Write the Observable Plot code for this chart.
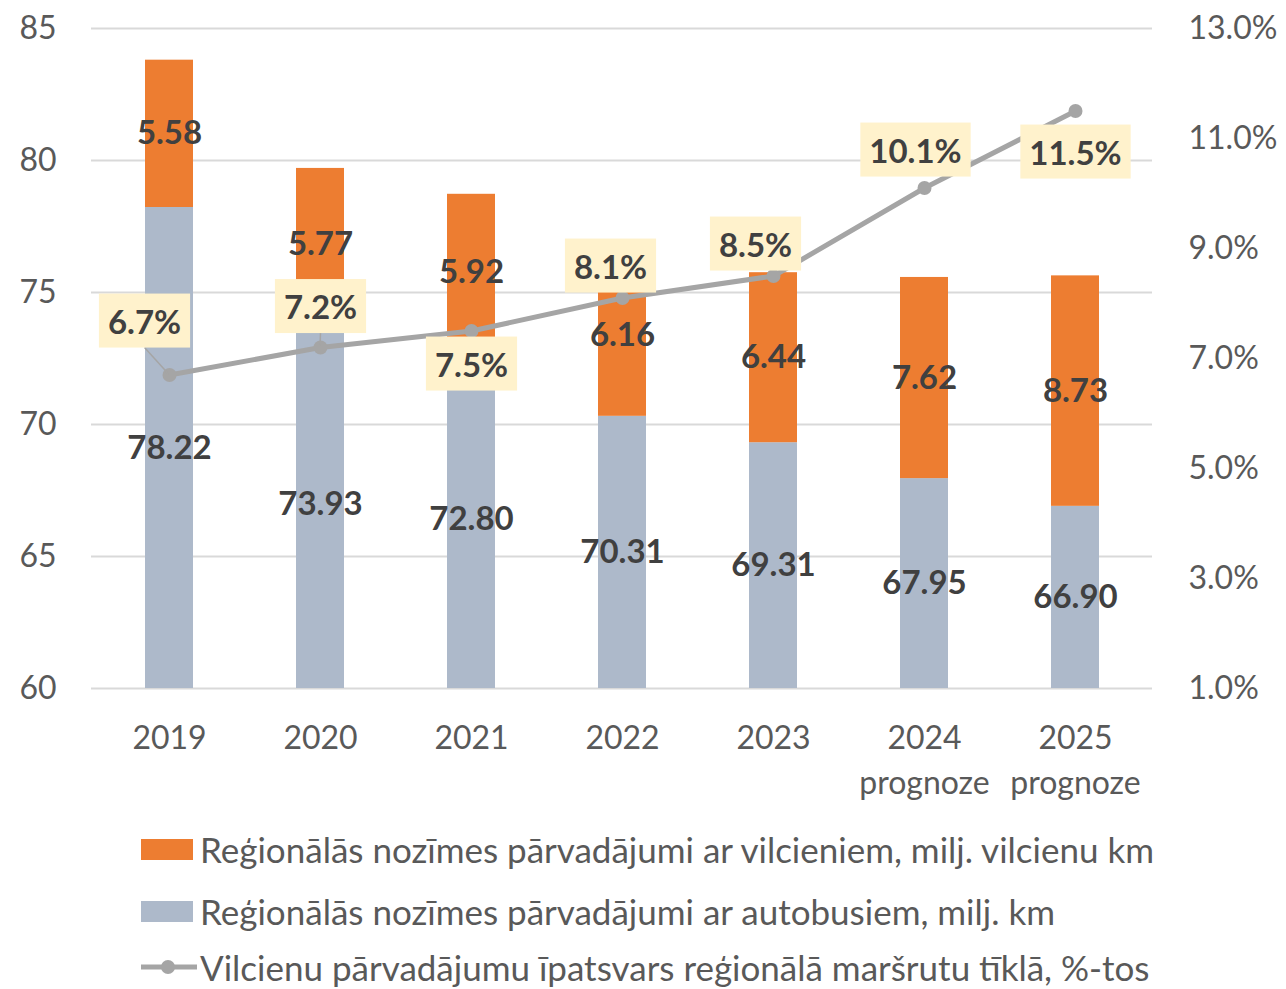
<!DOCTYPE html>
<html>
<head>
<meta charset="utf-8">
<script src="https://cdn.jsdelivr.net/npm/d3@7"></script>
<script src="https://cdn.jsdelivr.net/npm/@observablehq/plot@0.6"></script>
<style>
  body { margin: 0; background: #fff; font-family: Lato, "Open Sans", sans-serif; }
  #wrap { position: relative; width: 1286px; height: 989px; overflow: hidden; }
  .lg { position: absolute; left: 141px; height: 40px; display: flex; align-items: center; font-size: 35px; color: #595959; white-space: nowrap; }
  .sw { width: 52px; height: 21px; margin-right: 7px; flex: none; }
</style>
</head>
<body>
<div id="wrap"></div>
<script>
// ---- data ----
const years = ["2019", "2020", "2021", "2022", "2023", "2024", "2025"];
const forecastYears = ["2024", "2025"];
const busKm = [78.22, 73.93, 72.80, 70.31, 69.31, 67.95, 66.90];
const trainKm = [5.58, 5.77, 5.92, 6.16, 6.44, 7.62, 8.73];
const trainShare = [6.7, 7.2, 7.5, 8.1, 8.5, 10.1, 11.5];
const leftTicks = [60, 65, 70, 75, 80, 85];
const rightTicks = [1, 3, 5, 7, 9, 11, 13];
const seriesNames = [
  "Reģionālās nozīmes pārvadājumi ar vilcieniem, milj. vilcienu km",
  "Reģionālās nozīmes pārvadājumi ar autobusiem, milj. km",
  "Vilcienu pārvadājumu īpatsvars reģionālā maršrutu tīklā, %-tos"
];

// ---- layout (label nudges in px) ----
const pctLabelOffset = [[-25, -52], [0, -39], [0, 35], [-12, -30], [-18, -30], [-9, -36], [0, 43]];
const leaderYears = ["2019", "2020"];

const colors = { train: "#ED7D31", bus: "#ADB9CA", line: "#A5A5A5", grid: "#D9D9D9", text: "#595959", label: "#404040", box: "#FFF2CC" };
const base = 60;
const pctToLeft = p => base + (p - 1) * 25 / 12;
const leftToPct = v => (v - base) * 12 / 25 + 1;

const bars = [];
years.forEach((y, i) => {
  bars.push({ year: y, series: "bus", y1: base, y2: busKm[i], mid: (base + busKm[i]) / 2, label: busKm[i].toFixed(2) });
  bars.push({ year: y, series: "train", y1: busKm[i], y2: busKm[i] + trainKm[i], mid: busKm[i] + trainKm[i] / 2, label: trainKm[i].toFixed(2) });
});
const share = years.map((y, i) => ({ year: y, v: pctToLeft(trainShare[i]), label: trainShare[i].toFixed(1) + "%" }));

const labelFont = { fontSize: 33, fontWeight: "bold", fill: colors.label };

const chart = Plot.plot({
  width: 1286,
  height: 810,
  marginTop: 28,
  marginBottom: 122,
  marginLeft: 91,
  marginRight: 134,
  x: { domain: years, paddingInner: 0.684, paddingOuter: 0.342, label: null },
  y: { domain: [60, 85], label: null },
  color: { domain: ["bus", "train"], range: [colors.bus, colors.train] },
  style: { fontFamily: "Lato, 'Open Sans', sans-serif", fontSize: "32px", color: colors.text, background: "#fff" },
  marks: [
    Plot.ruleY(leftTicks, { stroke: colors.grid, strokeWidth: 2 }),
    Plot.axisY(leftTicks, { anchor: "left", tickSize: 0, tickPadding: 35, label: null, fontSize: 32 }),
    Plot.axisY(rightTicks.map(pctToLeft), { anchor: "right", tickSize: 0, tickPadding: 36, label: null, fontSize: 32, tickFormat: v => leftToPct(v).toFixed(1) + "%" }),
    Plot.axisX({ tickSize: 0, tickPadding: 29, label: null, fontSize: 32, lineHeight: 1.4, tickFormat: y => forecastYears.includes(y) ? y + "\nprognoze" : y }),
    Plot.barY(bars, { x: "year", y1: "y1", y2: "y2", fill: "series" }),
    Plot.text(bars, { x: "year", y: "mid", text: "label", ...labelFont }),
    Plot.line(share, { x: "year", y: "v", stroke: colors.line, strokeWidth: 5 }),
    Plot.dot(share, { x: "year", y: "v", r: 7, fill: colors.line }),
    ...share.map((d, i) => Plot.text([d], { x: "year", y: "v", text: "label", dx: pctLabelOffset[i][0], dy: pctLabelOffset[i][1], ...labelFont }))
  ]
});

const wrap = document.getElementById("wrap");
wrap.appendChild(chart);

// label boxes + leader lines (the last 7 text-mark groups are the share labels)
const xs = chart.scale("x"), ys = chart.scale("y");
const NS = "http://www.w3.org/2000/svg";
const textGroups = Array.from(chart.querySelectorAll('g[aria-label="text"]'));
const pctGroups = textGroups.slice(textGroups.length - share.length);
const svgBox = chart.getBoundingClientRect();
pctGroups.forEach((g, i) => {
  const t = g.querySelector("text");
  if (!t) return;
  const bb = t.getBBox();
  const cy = bb.y + bb.height / 2;
  const bw = bb.width + 18, bh = 54;
  const rect = document.createElementNS(NS, "rect");
  rect.setAttribute("x", bb.x - 9);
  rect.setAttribute("y", cy - bh / 2);
  rect.setAttribute("width", bw);
  rect.setAttribute("height", bh);
  rect.setAttribute("fill", colors.box);
  const tr = t.getAttribute("transform");
  if (tr) rect.setAttribute("transform", tr);
  t.parentNode.insertBefore(rect, t);
  const d = share[i];
  if (leaderYears.includes(d.year)) {
    const rb = rect.getBoundingClientRect();
    const px = xs.apply(d.year) + xs.bandwidth / 2;
    const py = ys.apply(d.v);
    const ln = document.createElementNS(NS, "line");
    ln.setAttribute("x1", rb.left + rb.width / 2 - svgBox.left);
    ln.setAttribute("y1", rb.bottom - svgBox.top);
    ln.setAttribute("x2", px);
    ln.setAttribute("y2", py);
    ln.setAttribute("stroke", colors.line);
    ln.setAttribute("stroke-width", 1.5);
    chart.insertBefore(ln, pctGroups[0]);
  }
});

// legend
const tops = [829, 891, 947];
const legendKinds = ["train", "bus", "line"];
legendKinds.forEach((k, i) => {
  const row = document.createElement("div");
  row.className = "lg";
  row.style.top = tops[i] + "px";
  if (k === "line") {
    row.innerHTML = `<svg width="56" height="20" style="margin-right:3px;flex:none"><line x1="0" y1="10" x2="56" y2="10" stroke="${colors.line}" stroke-width="5" stroke-linecap="round"/><circle cx="27" cy="10" r="7" fill="${colors.line}"/></svg>`;
  } else {
    row.innerHTML = `<div class="sw" style="background:${colors[k]}"></div>`;
  }
  const span = document.createElement("span");
  span.textContent = seriesNames[i];
  row.appendChild(span);
  wrap.appendChild(row);
});
</script>
</body>
</html>
